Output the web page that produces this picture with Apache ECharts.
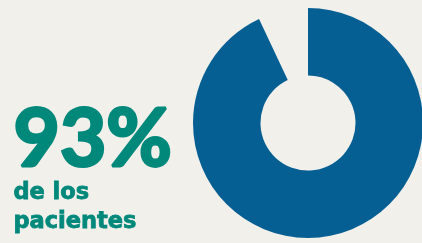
<!DOCTYPE html>
<html><head><meta charset="utf-8">
<script src="https://cdn.jsdelivr.net/npm/echarts@6/dist/echarts.min.js"></script>
<style>html,body{margin:0;padding:0;background:#f1f0eb;}#c{width:422px;height:243px;}</style>
</head><body><div id="c"></div>
<script>
const categories = ['de los pacientes', 'resto'];
const values = [93, 7];
const bigLabel = '93%';
const subLines = ['de los', 'pacientes'];

const chart = echarts.init(document.getElementById('c'), null, {renderer: 'canvas'});
chart.setOption({
  backgroundColor: '#f1f0eb',
  animation: false,
  series: [{
    type: 'pie',
    center: [308, 123],
    radius: [47.5, 115],
    startAngle: 90,
    clockwise: true,
    label: {show: false},
    labelLine: {show: false},
    silent: true,
    data: categories.map((c, i) => ({
      name: c, value: values[i],
      itemStyle: {color: i === 0 ? '#065f92' : 'rgba(0,0,0,0)'}
    }))
  }],
  graphic: [
    {type: 'text', left: 12, top: 99, style: {text: bigLabel, fill: '#00897b', stroke: '#00897b', lineWidth: 3, font: 'bold 80px Lato'}},
    {type: 'text', left: 13, top: 179, style: {text: subLines.join('\n'), fill: '#00897b', stroke: '#00897b', lineWidth: 0.8, font: 'bold 22.5px "DejaVu Sans"', lineHeight: 29}}
  ]
});
</script></body></html>
